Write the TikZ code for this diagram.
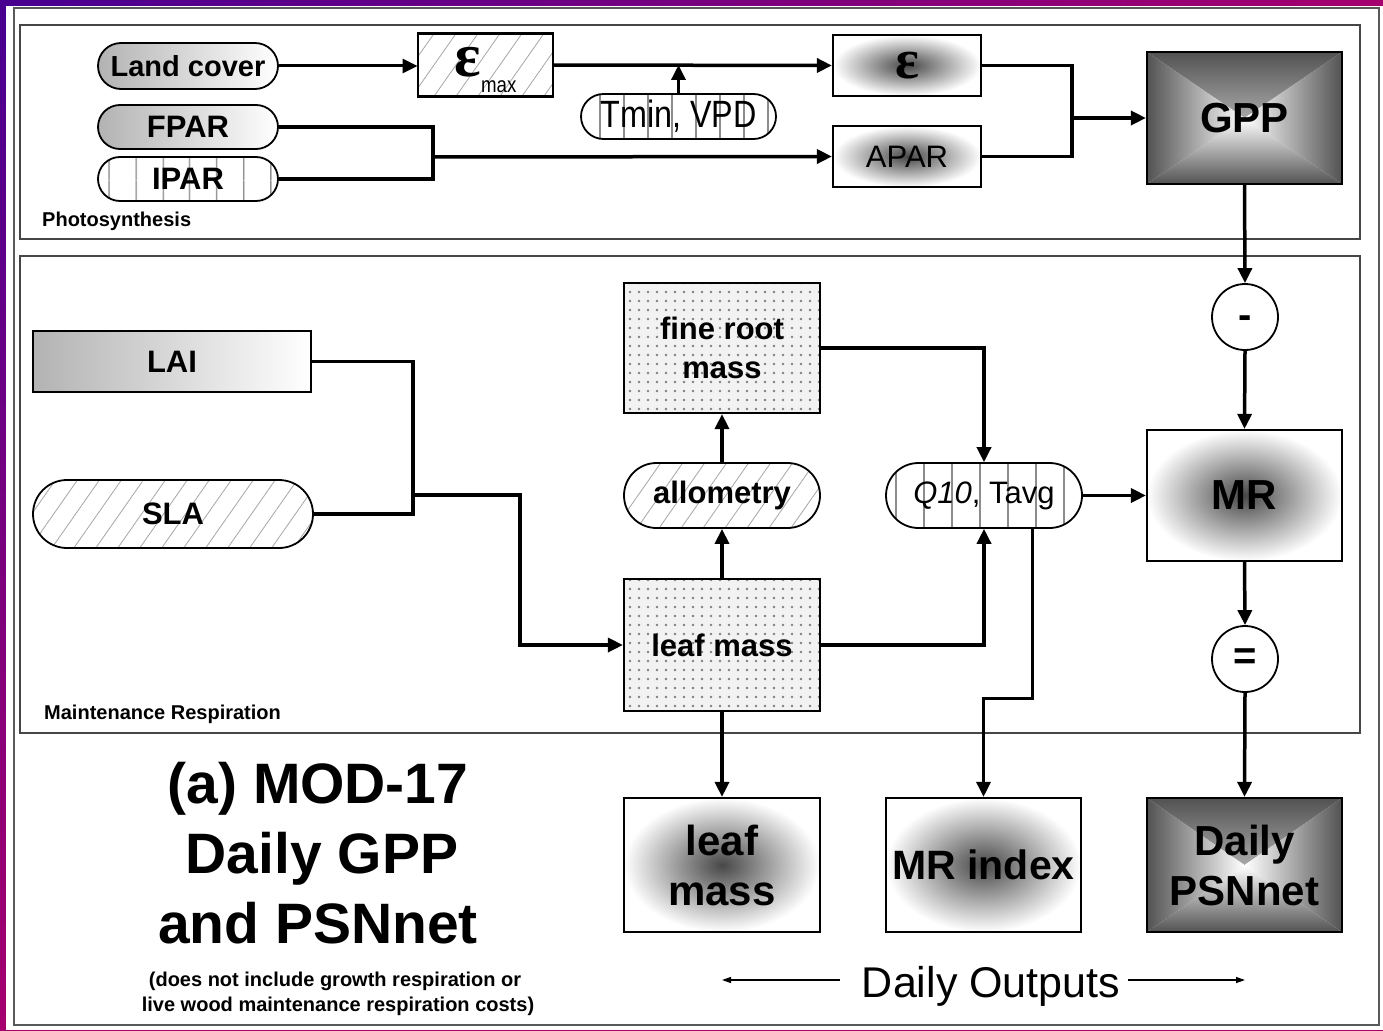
\documentclass[tikz,border=0pt]{standalone}
\usepackage{fontspec}
\setmainfont{Liberation Sans}
\newfontfamily\narrowfont[FakeStretch=0.85]{Liberation Sans}
\newfontfamily\greekfont{Liberation Serif}
\usetikzlibrary{arrows.meta,shapes.misc,patterns.meta,shadings}
\definecolor{indigoP}{RGB}{72,0,145}
\definecolor{magentaP}{RGB}{165,0,110}
\definecolor{panelgray}{RGB}{70,70,70}
\definecolor{edgedark}{RGB}{82,82,82}
\newcommand\fsz[2]{\fontsize{#1}{#2}\selectfont}
\begin{document}
\begin{tikzpicture}[x=1pt,y=-1pt,
  conn/.style={line width=3.5pt, line join=miter},
  arr/.style={conn, -{Triangle[length=15pt,width=14pt]}},
  darr/.style={line width=1.3pt, -{Triangle[length=9pt,width=6pt]}},
  box/.style={draw, line width=2.2pt, rectangle, inner sep=0pt},
  pill/.style={draw, line width=1.8pt, rounded rectangle, inner sep=0pt},
  opcircle/.style={draw, circle, line width=1.8pt, minimum size=66pt, inner sep=0pt},
  lgrad/.style={left color=black!30, right color=white},
  radial/.style={inner color=black!72, outer color=white},
  vstripes/.style={pattern={Lines[angle=90,distance=#1,line width=1.6pt]}, pattern color=black!45},
  hatch/.style={pattern={Lines[angle=55,distance=18pt,line width=0.8pt]}, pattern color=black!35},
  dotfill/.style={preaction={fill=black!5}, pattern={Dots[distance=9pt,radius=1.3pt]}, pattern color=black!50},
  pyramid/.style={draw, line width=2.2pt, rectangle, inner sep=0pt, path picture={
    \shade[top color=edgedark, bottom color=white] (path picture bounding box.north west) -- (path picture bounding box.north east) -- (path picture bounding box.center) -- cycle;
    \shade[bottom color=edgedark, top color=white] (path picture bounding box.south west) -- (path picture bounding box.south east) -- (path picture bounding box.center) -- cycle;
    \shade[left color=edgedark, right color=white] (path picture bounding box.north west) -- (path picture bounding box.south west) -- (path picture bounding box.center) -- cycle;
    \shade[right color=edgedark, left color=white] (path picture bounding box.north east) -- (path picture bounding box.south east) -- (path picture bounding box.center) -- cycle;
  }},
  panel/.style={draw=panelgray, line width=1.3pt}
]
\useasboundingbox (0,0) rectangle (1383,1030);
% page background
\shade[upper left=indigoP, upper right=magentaP, lower left=magentaP, lower right=magentaP] (0,0) rectangle (1383,1030);
\fill[white] (6,6) rectangle (1383,1030);
\draw[line width=2pt, black!65] (14,8) rectangle (1379,1025);
\draw[panel] (20,25) rectangle (1360,239);
\draw[panel] (20,256) rectangle (1360,733);

% Photosynthesis panel
\node[pill, lgrad, minimum width=180pt, minimum height=46pt, font=\fsz{29}{34}\bfseries] (land) at (188,66) {Land cover};
\node[pill, lgrad, minimum width=180pt, minimum height=44pt, font=\fsz{31}{36}\bfseries] (fpar) at (188,127) {FPAR};
\node[pill, vstripes=27pt, minimum width=180pt, minimum height=44pt, font=\fsz{31}{36}\bfseries] (ipar) at (188,179) {IPAR};
\node[anchor=base west, inner sep=0pt, font=\fsz{20}{24}\bfseries] (photo) at (42,226) {Photosynthesis};
\node[box, hatch, minimum width=135pt, minimum height=63pt] (epsmax) at (485.5,65) {\rule{0pt}{39pt}{\greekfont\bfseries\fsz{62}{62}ε}\raisebox{-16pt}{\narrowfont\fsz{22}{22}max}};
\node[pill, vstripes=24pt, minimum width=195pt, minimum height=45pt, font=\narrowfont\fsz{38}{38}] (tmin) at (678.5,116.5) {Tmin, VPD};
\node[box, radial, minimum width=148pt, minimum height=61pt, font=\greekfont\bfseries\fsz{56}{56}] (eps) at (907,65.5) {ε};
\node[box, radial, minimum width=148pt, minimum height=61pt, font=\fsz{31}{36}] (apar) at (907,156.5) {APAR};
\node[pyramid, minimum width=195pt, minimum height=132pt, font=\fsz{42}{48}\bfseries] (gpp) at (1244.5,118) {GPP};

% right column
\node[opcircle, font=\fsz{40}{40}\bfseries, text height=22pt, text depth=0pt] (minus) at (1245,317) {-};
\node[box, radial, minimum width=195pt, minimum height=131pt, font=\fsz{42}{48}\bfseries] (mr) at (1244.5,495.5) {MR};
\node[opcircle, font=\fsz{40}{40}\bfseries] (equal) at (1245,659) {=};
\node[pyramid, minimum width=195pt, minimum height=134pt, align=center, font=\fsz{42}{50}\bfseries] (psn) at (1244.5,865) {Daily\\PSNnet};

% Maintenance respiration panel
\node[box, lgrad, line width=1.8pt, minimum width=278pt, minimum height=61pt, font=\fsz{31}{36}\bfseries] (lai) at (172,361.5) {LAI};
\node[pill, hatch, minimum width=280pt, minimum height=68pt, font=\fsz{31}{36}\bfseries] (sla) at (173,514) {SLA};
\node[anchor=base west, inner sep=0pt, font=\fsz{20}{24}\bfseries] (mrlabel) at (44,719) {Maintenance Respiration};
\node[box, dotfill, minimum width=196pt, minimum height=130pt, align=center, font=\fsz{31}{39}\bfseries] (fine) at (722,348) {fine root\\mass};
\node[pill, hatch, minimum width=196pt, minimum height=65pt, font=\fsz{31}{36}\bfseries] (allo) at (722,495.5) {allometry};
\node[box, dotfill, minimum width=196pt, minimum height=132pt, font=\fsz{31}{36}\bfseries] (leaf) at (722,645) {leaf mass};
\node[pill, vstripes=28pt, minimum width=196pt, minimum height=65pt, font=\fsz{31}{36}] (q10) at (984,495.5) {\textit{Q10}, Tavg};

% outputs
\node[box, radial, minimum width=196pt, minimum height=134pt, align=center, font=\fsz{42}{50}\bfseries] (leafout) at (722,865) {leaf\\mass};
\node[box, radial, minimum width=195pt, minimum height=134pt, font=\fsz{41}{48}\bfseries] (mrindex) at (983.5,865) {MR index};

% title
\node[anchor=base, inner sep=0pt, font=\fsz{57}{68}\bfseries] (title1) at (318,803) {(a) MOD-17};
\node[anchor=base, inner sep=0pt, font=\fsz{57}{68}\bfseries] (title2) at (322,873) {Daily GPP};
\node[anchor=base, inner sep=0pt, font=\fsz{57}{68}\bfseries] (title3) at (318,943) {and PSNnet};
\node[anchor=base, inner sep=0pt, font=\fsz{20}{24}\bfseries] (note1) at (335,986) {(does not include growth respiration or};
\node[anchor=base, inner sep=0pt, font=\fsz{20}{24}\bfseries] (note2) at (338,1011) {live wood maintenance respiration costs)};
\node[anchor=base, inner sep=0pt, font=\fsz{43}{48}] (dout) at (991,997) {Daily Outputs};
\coordinate (doLs) at (840,980);
\coordinate (doL) at (722,980);
\coordinate (doRs) at (1128,980);
\coordinate (doR) at (1245,980);
\draw[darr] (doLs) -- (doL);
\draw[darr] (doRs) -- (doR);

% connectors
\draw[arr, line width=3pt] (land.east) -- (epsmax.west |- land.east);
\draw[arr] (epsmax.east) -- (eps.west);
\draw[arr] (tmin.north) -- (tmin.north |- epsmax.east);
\coordinate (jA) at (433,157);
\draw[conn] (fpar.east) -| (jA) |- (ipar.east);
\draw[arr] (jA) -- (apar.west);
\coordinate (jB) at (1072,118);
\draw[conn] (eps.east) -| (jB) |- (apar.east);
\draw[arr] (jB) -- (gpp.west);
\draw[arr] (gpp.south) -- (minus.north);
\draw[arr] (minus.south) -- (mr.north);
\draw[arr] (mr.south) -- (equal.north);
\draw[arr] (equal.south) -- (psn.north);
\coordinate (jC) at (413,495);
\coordinate (jD) at (520,495);
\draw[conn] (lai.east) -| (jC) |- (sla.east);
\draw[arr] (jC) -- (jD) |- (leaf.west);
\draw[arr] (leaf.north) -- (allo.south);
\draw[arr] (allo.north) -- (fine.south);
\draw[arr] (fine.east) -| (q10.north);
\draw[arr] (leaf.east) -| (q10.south);
\draw[arr] (q10.east) -- (mr.west);
\coordinate (jE) at (1032,698);
\draw[arr, line width=3pt] (q10.south -| jE) -- (jE) -| (mrindex.north);
\draw[arr] (leaf.south) -- (leafout.north);
\end{tikzpicture}
\end{document}
